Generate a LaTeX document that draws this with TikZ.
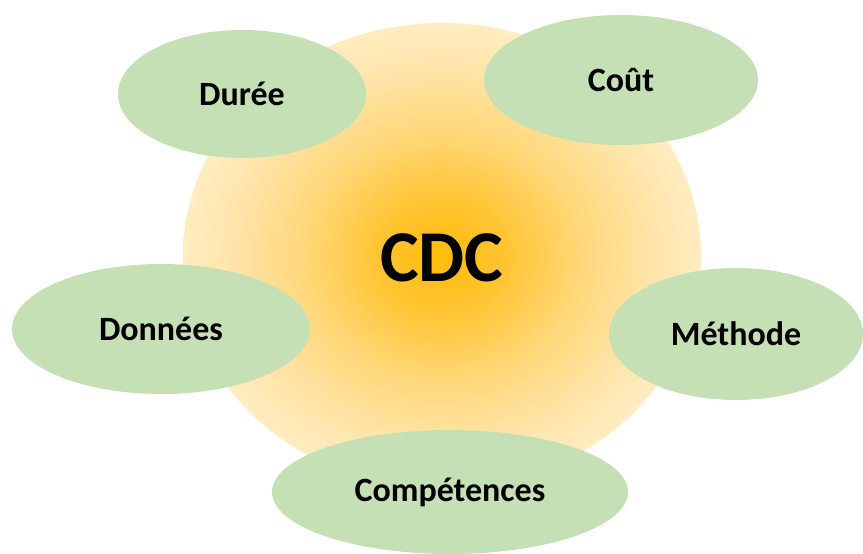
\documentclass[tikz,border=0pt]{standalone}
\usepackage{fontspec}
\setmainfont{Carlito}
\usepackage{tikz}
\usetikzlibrary{shapes.geometric}

\definecolor{glowcore}{RGB}{255,188,10}
\definecolor{glowinner}{RGB}{255,196,50}
\definecolor{glowmid}{RGB}{255,216,122}
\definecolor{glowpale}{RGB}{255,228,168}
\definecolor{glowrim}{RGB}{255,236,192}
\definecolor{topicgreen}{RGB}{197,224,180}
\pgfdeclareradialshading{cdcglow}{\pgfpoint{0bp}{0bp}}{color(0bp)=(glowcore); color(6bp)=(glowinner); color(13.5bp)=(glowmid); color(20bp)=(glowpale); color(25bp)=(glowrim); color(50bp)=(glowrim)}

\begin{document}
\begin{tikzpicture}[x=1pt,y=1pt,yscale=-1,xscale=1,
  topic/.style={ellipse, fill=topicgreen, inner sep=0pt, font=\bfseries\fontsize{34}{40}\selectfont}]
\useasboundingbox (0,0) rectangle (863,554);

%Glow Ellipse [id:cdc]
\node (cdc) [ellipse, shading=cdcglow, minimum width=518pt, minimum height=466pt, inner sep=0pt] at (442,256) {};
% Text Node
\node (cdclabel) [font=\bfseries\fontsize{73}{80}\selectfont] at (442,258) {CDC};

%Ellipse [id:duree]
\node (duree) [topic, minimum width=248pt, minimum height=128pt] at (242,94) {Durée};
%Ellipse [id:cout]
\node (cout) [topic, minimum width=274pt, minimum height=130pt] at (621,80) {Coût};
%Ellipse [id:donnees]
\node (donnees) [topic, minimum width=298pt, minimum height=130pt] at (161,329) {Données};
%Ellipse [id:methode]
\node (methode) [topic, minimum width=254pt, minimum height=132pt] at (736,334) {Méthode};
%Ellipse [id:competences]
\node (competences) [topic, minimum width=356pt, minimum height=124pt] at (450,492) {Compétences};
\end{tikzpicture}
\end{document}
